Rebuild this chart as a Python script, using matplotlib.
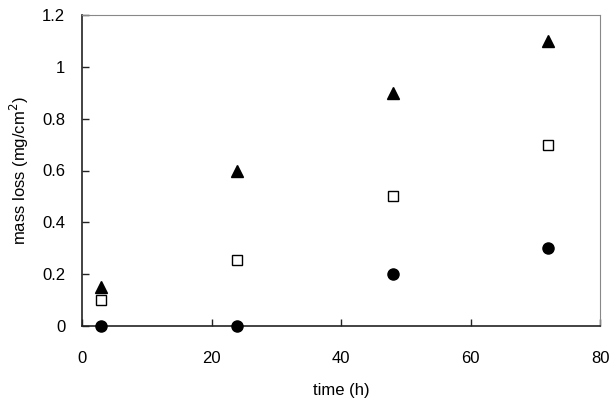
import matplotlib
matplotlib.use("Agg")
import matplotlib.pyplot as plt

plt.rcParams['font.family'] = ['Liberation Sans', 'DejaVu Sans']

time_h = [3, 24, 48, 72]
triangles = [0.15, 0.60, 0.90, 1.10]
squares = [0.10, 0.255, 0.50, 0.70]
circles = [0.0, 0.0, 0.20, 0.30]

xticks = [0, 20, 40, 60, 80]
yticks = [0, 0.2, 0.4, 0.6, 0.8, 1.0, 1.2]
ytick_labels = ['0', '0.2', '0.4', '0.6', '0.8', '1', '1.2']

fig = plt.figure(figsize=(6.13, 3.99), dpi=100)
ax = fig.add_axes([82/613, 1-326/399, (600-82)/613, (326-15)/399])

ax.plot(time_h, triangles, linestyle='none', marker='^', markersize=8.5,
        color='black', clip_on=False, zorder=3)
ax.plot(time_h, squares, linestyle='none', marker='s', markersize=7,
        markerfacecolor='white', markeredgecolor='black', markeredgewidth=1.0,
        clip_on=False, zorder=3)
ax.plot(time_h, circles, linestyle='none', marker='o', markersize=8,
        color='black', clip_on=False, zorder=3)

ax.set_xlim(0, 80)
ax.set_ylim(0, 1.2)
ax.set_xticks(xticks)
ax.set_yticks(yticks)
ax.set_yticklabels(ytick_labels)
ax.tick_params(direction='in', length=5, width=1, labelsize=12, colors='black')
ax.tick_params(axis='y', pad=12, colors='#222222', labelcolor='black')
ax.tick_params(axis='x', pad=18, colors='#222222', labelcolor='black')

for s in ['left', 'bottom']:
    ax.spines[s].set_linewidth(1.2)
    ax.spines[s].set_color('#222222')
for s in ['top', 'right']:
    ax.spines[s].set_linewidth(0.8)
    ax.spines[s].set_color('#888888')

ax.set_xlabel('time (h)', fontsize=12, labelpad=12)
ax.set_ylabel('mass loss (mg/cm$^2$)', fontsize=12, labelpad=8)

fig.savefig('out.png', dpi=100)
